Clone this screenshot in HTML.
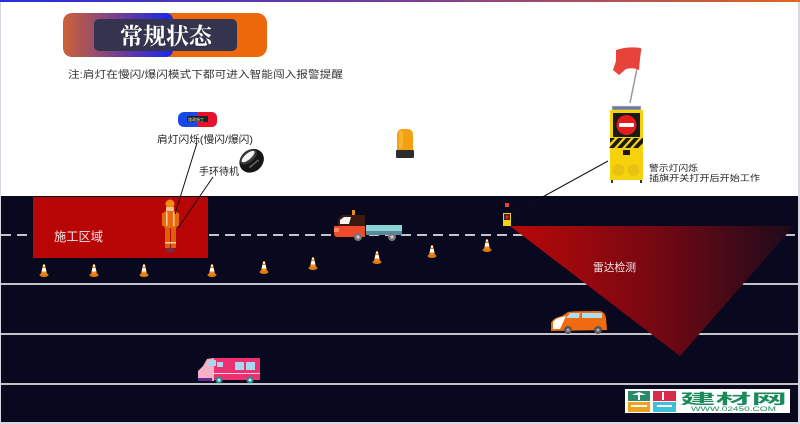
<!DOCTYPE html>
<html><head><meta charset="utf-8">
<style>
html,body{margin:0;padding:0;background:#d6d9e4;}
svg{display:block;}
text{font-family:"Liberation Sans","Noto Sans CJK SC",sans-serif;}
</style></head>
<body>
<svg width="800" height="424" viewBox="0 0 800 424" xmlns="http://www.w3.org/2000/svg">
<defs>
  <linearGradient id="topbar" x1="0" x2="1" y1="0" y2="0">
    <stop offset="0" stop-color="#2430d8"/>
    <stop offset="0.5" stop-color="#7a3c9a"/>
    <stop offset="1" stop-color="#e0661a"/>
  </linearGradient>
  <linearGradient id="titleg" x1="0" x2="1" y1="0" y2="0">
    <stop offset="0" stop-color="#cc6238"/>
    <stop offset="0.55" stop-color="#6a3c98"/>
    <stop offset="1" stop-color="#1626f0"/>
  </linearGradient>
  <linearGradient id="radar" x1="0" x2="1" y1="0" y2="0">
    <stop offset="0" stop-color="#b80808"/>
    <stop offset="0.5" stop-color="#780812"/>
    <stop offset="1" stop-color="#1c0a1c"/>
  </linearGradient>
  <g id="cone">
    <ellipse cx="0" cy="0" rx="4.5" ry="2" fill="#e07a10"/>
    <path d="M-3,-1 L3,-1 L0.8,-11 L-0.8,-11 Z" fill="#f08a1a"/>
    <path d="M-2.4,-3.5 L2.4,-3.5 L1.6,-7 L-1.6,-7 Z" fill="#ffffff"/>
    <path d="M-1.3,-8.5 L1.3,-8.5 L0.9,-10 L-0.9,-10 Z" fill="#ffffff"/>
  </g>
</defs>

<!-- page background -->
<rect x="1" y="0" width="797" height="422" fill="#ffffff"/>
<rect x="0" y="0" width="800" height="2" fill="url(#topbar)"/>

<!-- title -->
<rect x="63" y="13" width="204" height="44" rx="10" fill="#ec680a"/>
<path d="M73,13 L165,13 Q173,13 173,21 L173,49 Q173,57 165,57 L73,57 Q63,57 63,47 L63,23 Q63,13 73,13 Z" fill="url(#titleg)"/>
<rect x="94" y="19" width="143" height="32" rx="5" fill="#35344f"/>
<text x="120" y="44" font-size="23" font-weight="bold" fill="#ffffff" textLength="92" lengthAdjust="spacingAndGlyphs" style="font-family:'Liberation Serif','Noto Serif CJK SC',serif">常规状态</text>

<text x="68" y="78" font-size="10" fill="#333" textLength="275" lengthAdjust="spacingAndGlyphs">注:肩灯在慢闪/爆闪模式下都可进入智能闯入报警提醒</text>

<!-- shoulder light -->
<rect x="178" y="112" width="39" height="15" rx="6" fill="#1848e8"/>
<path d="M197,112 L211,112 Q217,112 217,118 L217,121 Q217,127 211,127 L197,127 Z" fill="#e8102a"/>
<rect x="187" y="116" width="21" height="6" fill="#222"/>
<text x="188" y="121" font-size="4" fill="#ddd">路政施工</text>
<text x="157" y="143" font-size="10" fill="#222" textLength="96" lengthAdjust="spacingAndGlyphs">肩灯闪烁(慢闪/爆闪)</text>

<!-- wristband -->
<g transform="rotate(-40 251 160)">
  <ellipse cx="251" cy="161" rx="13" ry="11" fill="#151515"/>
  <ellipse cx="251" cy="156" rx="10" ry="5.5" fill="#3a3a3a"/>
  <ellipse cx="251" cy="155.5" rx="8" ry="3" fill="#f4f4f4"/>
  <rect x="245" y="164" width="12" height="1.5" fill="#666"/>
</g>
<text x="199" y="175" font-size="10" fill="#222" textLength="40" lengthAdjust="spacingAndGlyphs">手环待机</text>

<!-- beacon -->
<path d="M397,150 L397,135 Q397,129 403,129 L407,129 Q413,129 413,135 L413,150 Z" fill="#f5a010"/>
<rect x="399" y="131" width="4" height="17" fill="#ffc040" opacity="0.6"/>
<rect x="396" y="150" width="18" height="8" rx="1" fill="#2c2c2c"/>

<!-- flag & sign -->
<line x1="630" y1="103" x2="641" y2="49" stroke="#999" stroke-width="1.5"/>
<path d="M616,50 Q628,46 641,48 L639,70 Q632,67 626,69 L619,75 L613,70 L616,61 Z" fill="#e8433a"/>
<rect x="612" y="106" width="29" height="4" fill="#6a7a9a" stroke="#ddd" stroke-width="0.6"/>
<rect x="610" y="110" width="33" height="70" fill="#f6d20c"/>
<rect x="613" y="113" width="27" height="24" fill="#1a1a1a"/>
<circle cx="626.5" cy="125" r="10" fill="#e01c1c"/>
<rect x="619" y="123" width="15" height="4" rx="1" fill="#fff"/>
<rect x="610" y="138" width="33" height="10" fill="#f6d20c"/>
<path d="M610,138 L615,138 L610,143 Z M618,138 L623,138 L614,148 L609,148 Z M626,138 L631,138 L622,148 L617,148 Z M634,138 L639,138 L630,148 L625,148 Z M642,138 L643,138 L643,143 L638,148 L633,148 Z" fill="#1a1a1a"/>
<rect x="623" y="150" width="7" height="5" fill="#1a1a1a"/>
<circle cx="618.5" cy="170" r="6" fill="#e8c210"/>
<circle cx="633.5" cy="170" r="6" fill="#e8c210"/>
<rect x="611" y="180" width="2" height="3" fill="#333"/>
<rect x="640" y="180" width="2" height="3" fill="#333"/>
<text x="649" y="171" font-size="8.5" fill="#222" textLength="49" lengthAdjust="spacingAndGlyphs">警示灯闪烁</text>
<text x="649" y="181" font-size="8.5" fill="#222" textLength="111" lengthAdjust="spacingAndGlyphs">插旗开关打开后开始工作</text>

<!-- road -->
<rect x="1" y="196" width="797" height="226" fill="#08081e"/>
<line x1="1" y1="235" x2="798" y2="235" stroke="#ffffff" stroke-width="1.5" stroke-dasharray="10,6"/>
<line x1="1" y1="284" x2="798" y2="284" stroke="#ffffff" stroke-width="1.5"/>
<line x1="1" y1="334" x2="798" y2="334" stroke="#ffffff" stroke-width="1.5"/>
<line x1="1" y1="384" x2="798" y2="384" stroke="#ffffff" stroke-width="1.5"/>

<!-- construction zone -->
<rect x="33" y="197" width="175" height="61" fill="#b80606"/>
<text x="54" y="241" font-size="12.5" fill="#f4e4e4" textLength="49" lengthAdjust="spacingAndGlyphs">施工区域</text>

<!-- worker -->
<ellipse cx="170" cy="250" rx="5" ry="3" fill="#7a2a3a"/>
<circle cx="170" cy="204" r="4.5" fill="#f08a10"/>
<rect x="166" y="207" width="8" height="4" fill="#f4c090"/>
<rect x="164" y="211" width="13" height="17" rx="2" fill="#e8680c"/>
<rect x="166" y="212" width="1.5" height="14" fill="#f4d0a0"/>
<rect x="173" y="212" width="1.5" height="14" fill="#f4d0a0"/>
<rect x="162" y="213" width="3" height="13" fill="#e8680c"/>
<rect x="176" y="213" width="3" height="13" fill="#e8680c"/>
<rect x="165" y="228" width="5" height="20" fill="#e0600a"/>
<rect x="171" y="228" width="5" height="20" fill="#e0600a"/>
<rect x="165" y="242" width="11" height="1.5" fill="#f4d0a0"/>

<!-- connector lines -->
<line x1="197" y1="143" x2="175" y2="214" stroke="#111" stroke-width="1"/>
<line x1="213" y1="177" x2="178" y2="228" stroke="#111" stroke-width="1"/>
<line x1="608" y1="161" x2="508" y2="216" stroke="#111" stroke-width="1"/>

<!-- cones -->
<use href="#cone" x="44" y="275"/>
<use href="#cone" x="94" y="275"/>
<use href="#cone" x="144" y="275"/>
<use href="#cone" x="212" y="275"/>
<use href="#cone" x="264" y="272"/>
<use href="#cone" x="313" y="268"/>
<use href="#cone" x="377" y="262"/>
<use href="#cone" x="432" y="256"/>
<use href="#cone" x="487" y="250"/>

<!-- truck -->
<rect x="352" y="210" width="3" height="5" fill="#e89020"/>
<path d="M338,219 L342,215 L365,215 L365,226 L338,226 Z" fill="#3a1a10"/>
<path d="M340,220 L344,217 L351,217 L349,224 L340,224 Z" fill="#f4f4f4"/>
<path d="M334,226 L365,226 L365,237 L337,237 Q334,237 334,233 Z" fill="#f04a2a"/>
<rect x="334" y="228" width="5" height="4" fill="#ff8a5a"/>
<rect x="366" y="225" width="36" height="6" fill="#8ad6d6"/>
<rect x="366" y="231" width="36" height="4" fill="#5a8a9a"/>
<circle cx="358" cy="237" r="4" fill="#777"/>
<circle cx="358" cy="237" r="1.6" fill="#ccc"/>
<circle cx="392" cy="237" r="4" fill="#777"/>
<circle cx="392" cy="237" r="1.6" fill="#ccc"/>

<!-- radar triangle -->
<path d="M510,226 L794,226 L680,356 Z" fill="url(#radar)"/>
<text x="593" y="271" font-size="11" fill="#f0e8e8" textLength="43" lengthAdjust="spacingAndGlyphs">雷达检测</text>

<!-- small device on road -->
<rect x="505" y="203" width="4" height="4" fill="#e8433a"/>
<rect x="503" y="213" width="8" height="13" fill="#f2d00c"/>
<rect x="504" y="214" width="6" height="6" fill="#3a2a1a"/>
<circle cx="507" cy="217" r="1.8" fill="#e01c1c"/>

<!-- orange car -->
<path d="M551,331 L551,323 Q553,318 562,316 L568,312 Q572,311 600,311 Q605,312 606,318 L607,330 Z" fill="#f06a10"/>
<path d="M553,329 L553,322 Q556,318 562,317 L566,316 L560,329 Z" fill="#ffffff"/>
<path d="M570,313 L580,313 L579,318 L566,318 Z" fill="#a8e0f0"/>
<rect x="582" y="313" width="20" height="5" fill="#a8e0f0"/>
<circle cx="568" cy="330" r="4" fill="#555"/>
<circle cx="568" cy="330" r="1.6" fill="#aaa"/>
<circle cx="598" cy="330" r="4" fill="#555"/>
<circle cx="598" cy="330" r="1.6" fill="#aaa"/>

<!-- pink van -->
<rect x="212" y="358" width="48" height="22" fill="#ec3070"/>
<path d="M198,381 L198,371 L203,366 L207,359 L214,358 L214,381 Z" fill="#f4b0c8"/>
<path d="M206,366 L210,360 L216,360 L216,366 Z" fill="#a8d8f0"/>
<rect x="217" y="362" width="6" height="5" fill="#a8d8f0"/>
<rect x="235" y="362" width="9" height="8" fill="#a8d8f0"/>
<rect x="246" y="362" width="9" height="8" fill="#a8d8f0"/>
<rect x="212" y="373" width="48" height="1" fill="#ffd0e0"/>
<rect x="198" y="378" width="14" height="3" fill="#6a2a8a"/>
<circle cx="219" cy="380" r="3.5" fill="#2a8a8a"/>
<circle cx="219" cy="380" r="1.5" fill="#bff"/>
<circle cx="250" cy="380" r="3.5" fill="#2a8a8a"/>
<circle cx="250" cy="380" r="1.5" fill="#bff"/>

<!-- logo -->
<rect x="625" y="389" width="165" height="24" fill="#ffffff"/>
<rect x="628" y="391" width="22" height="10" fill="#2a8a6a"/>
<path d="M632,395 L646,395 L639,392 Z" fill="#fff"/>
<rect x="638" y="395" width="2" height="5" fill="#fff"/>
<rect x="653" y="391" width="23" height="10" fill="#d82a4a"/>
<rect x="662" y="392" width="2" height="8" fill="#fff"/>
<rect x="628" y="402" width="22" height="10" fill="#f0a020"/>
<rect x="631" y="405" width="16" height="2" fill="#fff"/>
<rect x="653" y="402" width="23" height="10" fill="#40c0d8"/>
<rect x="657" y="405" width="15" height="2" fill="#fff"/>
<text x="680" y="404" font-size="14" font-weight="bold" fill="#1a8a5a" textLength="107" lengthAdjust="spacingAndGlyphs">建材网</text>
<text x="691" y="411" font-size="6" fill="#1a8a5a" textLength="85" lengthAdjust="spacingAndGlyphs">WWW.02450.COM</text>
</svg>
</body></html>
